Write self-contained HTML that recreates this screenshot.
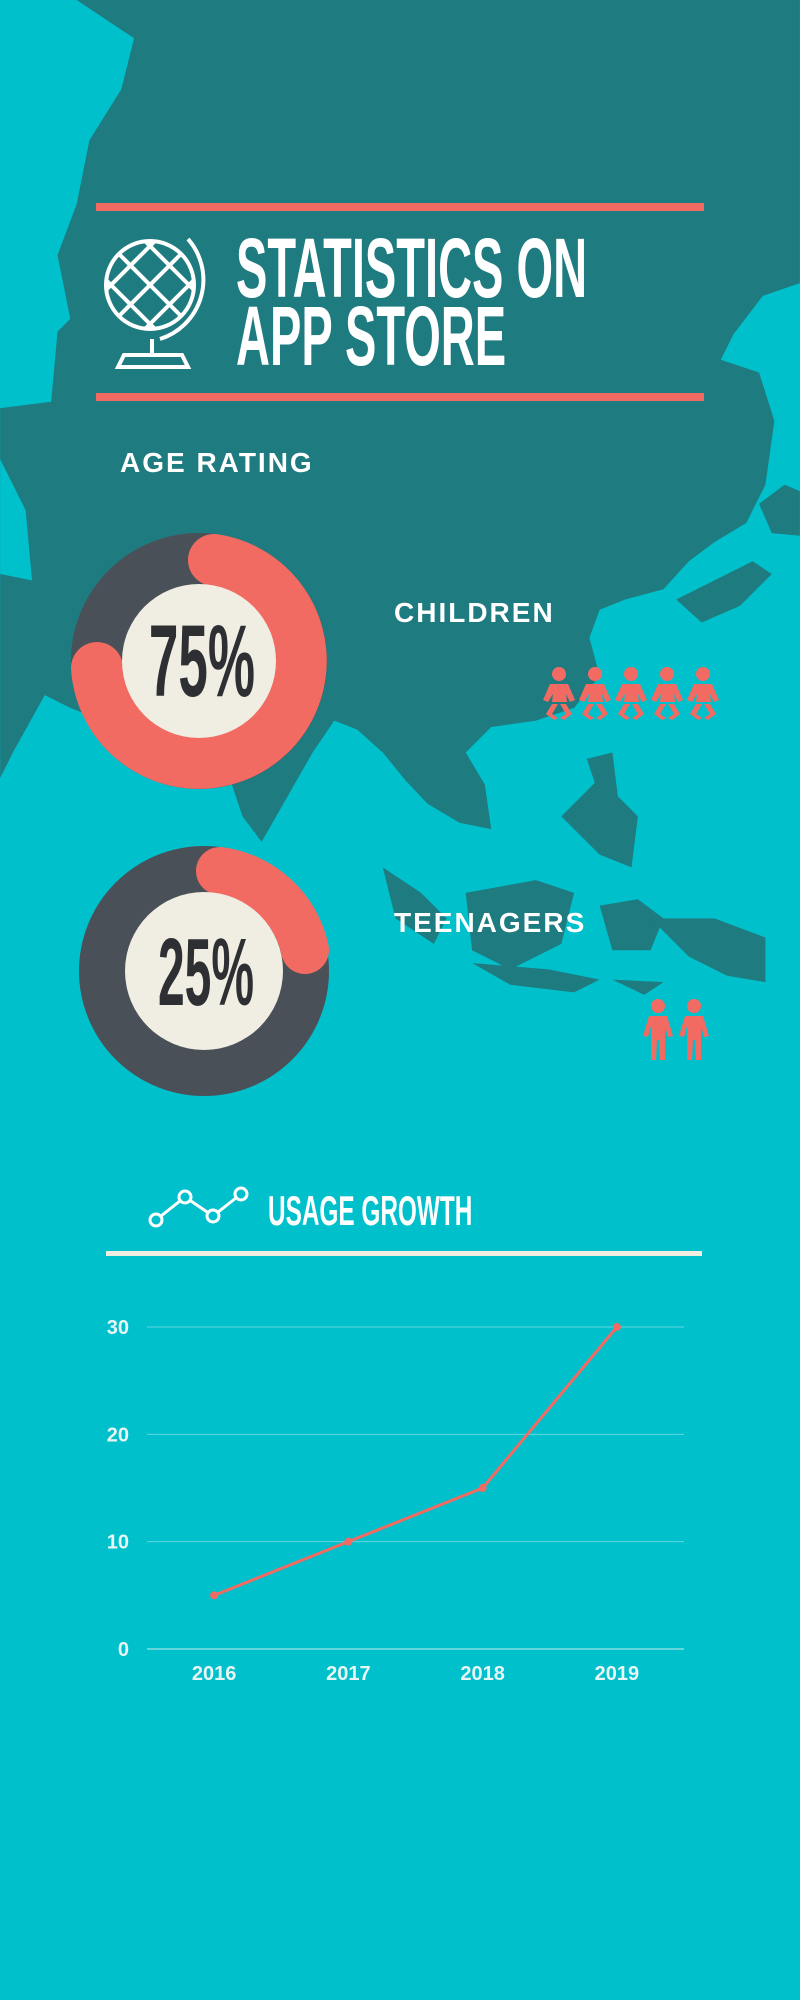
<!DOCTYPE html>
<html><head><meta charset="utf-8"><style>
html,body{margin:0;padding:0}
body{width:800px;height:2000px;background:#00c0cb;position:relative;overflow:hidden;font-family:"Liberation Sans",sans-serif}
.abs{position:absolute}
.cond{font-family:"Liberation Sans Narrow","Liberation Sans",sans-serif;font-weight:bold;color:#fff;white-space:nowrap}
.lbl{font-family:"Liberation Sans",sans-serif;font-weight:bold;color:#fff;letter-spacing:2px;white-space:nowrap}
</style></head><body>
<svg class="abs" style="left:0;top:0" width="800" height="2000" viewBox="0 0 627 1568">
<g fill="#1e7b80">
<path d="M60,0 L627,0 L627,222 L598,232 L575,262 L565,282 L595,292 L607,330 L600,380 L585,410 L560,425 L540,440 L520,462 L490,470 L470,478 L462,500 L470,530 L450,555 L420,565 L385,570 L365,590 L380,615 L385,650 L360,645 L335,630 L318,612 L300,590 L280,572 L262,565 L245,590 L225,625 L205,660 L190,640 L180,610 L165,595 L140,585 L110,575 L80,565 L55,555 L35,545 L10,590 L0,610 L0,320 L40,315 L45,260 L55,250 L45,200 L60,160 L70,110 L95,70 L105,30 Z"/>
<path d="M0,360 L0,450 L25,455 L20,400 Z" fill="#00c0cb"/>
<path d="M300,680 L330,700 L350,720 L340,740 L310,720 Z"/>
<path d="M365,700 L420,690 L450,700 L440,740 L400,760 L370,745 Z"/>
<path d="M440,640 L470,610 L500,640 L495,680 L470,670 Z"/>
<path d="M460,595 L480,590 L485,630 L470,625 Z"/>
<path d="M470,710 L500,705 L520,720 L510,745 L480,745 Z"/>
<path d="M510,720 L560,720 L600,735 L600,770 L570,765 L540,750 Z"/>
<path d="M370,755 L430,760 L470,768 L450,778 L400,772 Z"/>
<path d="M480,768 L520,770 L505,780 Z"/>
<path d="M530,470 L560,455 L590,440 L605,450 L580,475 L550,488 Z"/>
<path d="M595,395 L615,380 L627,385 L627,420 L605,418 Z"/>
</g>
</svg>

<div class="abs" style="left:96px;top:203px;width:608px;height:8px;background:#f26b63"></div>
<div class="abs" style="left:96px;top:393px;width:608px;height:8px;background:#f26b63"></div>

<svg class="abs" style="left:100px;top:235px" width="110" height="140" viewBox="0 0 110 140">
<g fill="none" stroke="#fff" stroke-width="4">
<circle cx="50" cy="50" r="44"/>
<path d="M20,20 L80,80 M6,45 L55,94 M45,6 L94,55 M80,20 L20,80 M45,94 L94,45 M6,55 L55,6"/>
<path d="M88,4 A62,62 0 0 1 60,104"/>
<path d="M52,104 L52,122 M18,132 L88,132 L82,120 L24,120 Z"/>
</g>
</svg>
<div class="abs cond" style="left:236px;top:226px;font-size:84px;line-height:84px;transform:scaleX(0.56);transform-origin:left">STATISTICS ON</div>
<div class="abs cond" style="left:236px;top:294px;font-size:84px;line-height:84px;transform:scaleX(0.56);transform-origin:left">APP STORE</div>

<div class="abs lbl" style="left:120px;top:447px;font-size:28px">AGE RATING</div>

<svg class="abs" style="left:0;top:0" width="800" height="1100">
<circle cx="199" cy="661" r="102" fill="none" stroke="#4a5058" stroke-width="52"/>
<path d="M214,560 A102,102 0 1 1 97,668" fill="none" stroke="#f26b63" stroke-width="52" stroke-linecap="round"/>
<circle cx="199" cy="661" r="77" fill="#f0ede3"/>
<circle cx="204" cy="971" r="101" fill="none" stroke="#4a5058" stroke-width="48"/>
<path d="M220,871 A101,101 0 0 1 305,950" fill="none" stroke="#f26b63" stroke-width="48" stroke-linecap="round"/>
<circle cx="204" cy="971" r="79" fill="#f0ede3"/>
</svg>
<div class="abs cond" style="left:97px;top:606px;width:210px;text-align:center;font-size:102px;line-height:110px;color:#2e2f33;transform:scaleX(0.52)">75%</div>
<div class="abs cond" style="left:101px;top:918px;width:210px;text-align:center;font-size:96px;line-height:110px;color:#2e2f33;transform:scaleX(0.5)">25%</div>

<div class="abs lbl" style="left:394px;top:597px;font-size:28px">CHILDREN</div>
<div class="abs lbl" style="left:394px;top:907px;font-size:28px">TEENAGERS</div>

<svg class="abs" style="left:542px;top:664px" width="180" height="56">
<g fill="#f26b63" id="kid">
<circle cx="17" cy="10" r="7"/><path d="M8,20 L26,20 L33,36 L28,38 L24,30 L25,38 L10,38 L11,30 L6,38 L1,36 Z"/>
<path d="M10,40 L16,40 L10,50 L16,54 L12,56 L4,50 Z M18,40 L24,40 L30,50 L22,56 L18,54 L24,50 Z"/>
</g>
<use href="#kid" x="36"/><use href="#kid" x="72"/><use href="#kid" x="108"/><use href="#kid" x="144"/>
</svg>
<svg class="abs" style="left:643px;top:998px" width="70" height="64">
<g fill="#f26b63" id="teen">
<circle cx="15" cy="8" r="7"/><path d="M6,18 L24,18 L30,38 L25,39 L22,28 L22,62 L17,62 L16,42 L14,42 L13,62 L8,62 L8,28 L5,39 L0,38 Z"/>
</g>
<use href="#teen" x="36"/>
</svg>

<svg class="abs" style="left:145px;top:1185px" width="110" height="50">
<polyline points="11,35 40,12 68,31 96,9" fill="none" stroke="#fff" stroke-width="3"/>
<g fill="#00c0cb" stroke="#fff" stroke-width="3"><circle cx="11" cy="35" r="6"/><circle cx="40" cy="12" r="6"/><circle cx="68" cy="31" r="6"/><circle cx="96" cy="9" r="6"/></g>
</svg>
<div class="abs cond" style="left:268px;top:1187px;font-size:42px;line-height:48px;transform:scaleX(0.58);transform-origin:left">USAGE GROWTH</div>
<div class="abs" style="left:106px;top:1251px;width:596px;height:5px;background:#f0ede3"></div>

<svg class="abs" id="chart" style="left:0;top:0" width="800" height="2000"></svg>
<script>
const years=["2016","2017","2018","2019"];
const usage=[5,10,15,30];
const yTicks=[0,10,20,30];
const svg=document.getElementById('chart');
const NS='http://www.w3.org/2000/svg';
const x0=147,x1=684,yBase=1649,yTop=1327,yMax=30;
const xs=i=>x0+(x1-x0)*(i+0.5)/years.length;
const ys=v=>yBase-(v/yMax)*(yBase-yTop);
function mk(t,a){const e=document.createElementNS(NS,t);for(const k in a)e.setAttribute(k,a[k]);svg.appendChild(e);return e;}
yTicks.forEach(v=>{
 const g=mk('line',{x1:x0,x2:x1,y1:ys(v),y2:ys(v),stroke:v===0?'#c9eef0':'#5fd6dc','stroke-width':1});
 
 
 const t=mk('text',{x:129,y:ys(v)+7,'text-anchor':'end',fill:'#e8f6f6','font-size':20,'font-weight':'bold','font-family':'Liberation Sans, sans-serif'});
 t.textContent=v;
 
 
});
years.forEach((y,i)=>{
 const t=mk('text',{x:xs(i),y:1680,'text-anchor':'middle',fill:'#e8f6f6','font-size':20,'font-weight':'bold','font-family':'Liberation Sans, sans-serif'});
 t.textContent=y;
 
 
});
const pl=mk('polyline',{points:usage.map((v,i)=>xs(i)+','+ys(v)).join(' '),fill:'none',stroke:'#f26b63','stroke-width':3});


usage.forEach((v,i)=>{
 const c=mk('circle',{cx:xs(i),cy:ys(v),r:4,fill:'#f26b63'});
 
 
});
</script>
</body></html>
